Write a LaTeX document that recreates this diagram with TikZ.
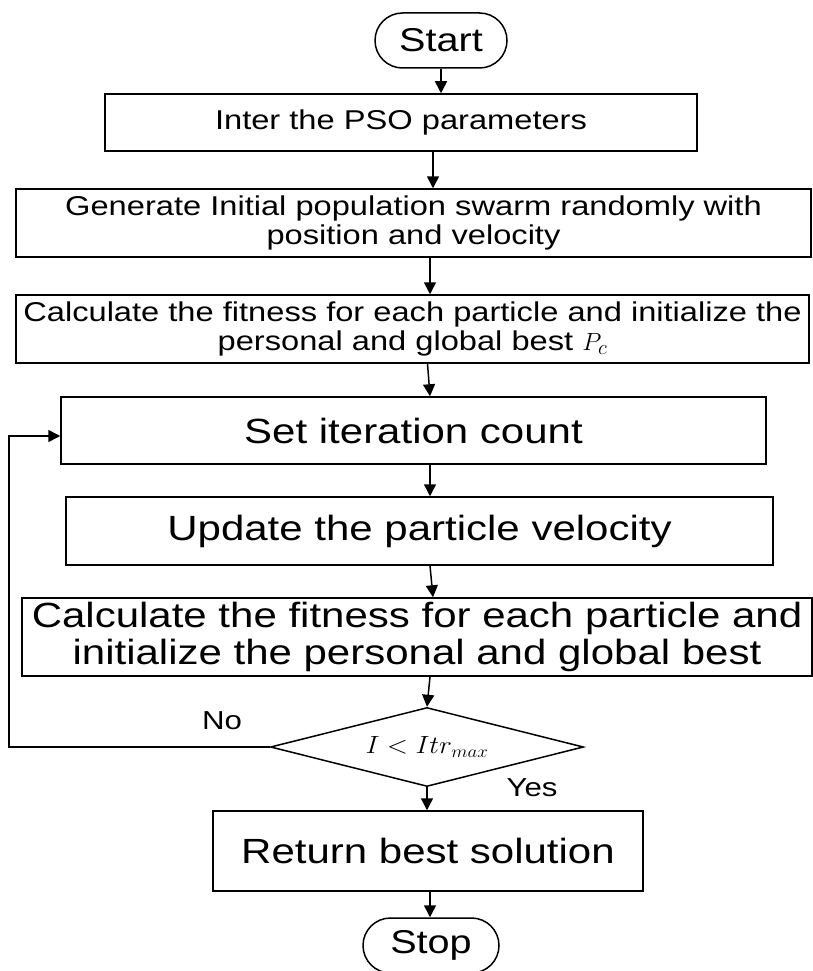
\documentclass[tikz,border=0pt]{standalone}
\usepackage{fontspec}
\setmainfont{Liberation Sans}[FakeStretch=1.2]
\usepackage{graphicx}
\usetikzlibrary{shapes.geometric,shapes.misc,arrows.meta}

\tikzset{
  line/.style={line width=1.5pt},
  box/.style={draw, line, rectangle, inner sep=0pt, align=center},
  smalltext/.style={font=\fontsize{27.2}{29.5}\selectfont},
  bigtext/.style={font=\fontsize{35}{36.5}\selectfont},
  term/.style={draw, line, rounded rectangle, inner sep=0pt,
    minimum height=55pt, font=\fontsize{33}{36}\selectfont},
  decision/.style={draw, line, diamond, inner sep=0pt, aspect=3.96},
  arr/.style={line, -{Triangle[length=12pt,width=12pt]}},
  lbl/.style={inner sep=0pt, font=\fontsize{26}{30}\selectfont}
}

\begin{document}
\begin{tikzpicture}[x=1pt,y=1pt]
  \useasboundingbox (0,0) rectangle (813,-971);

  % terminals and process steps
  \node[term, minimum width=132pt] (start) at (441,-40.5) {Start};
  \node[box, smalltext, minimum width=592pt, minimum height=57pt] (b1) at (401,-122.5)
    {Inter the PSO parameters};
  \node[box, smalltext, minimum width=795pt, minimum height=68pt] (b2) at (413.5,-223)
    {Generate Initial population swarm randomly with\\ position and velocity};
  \node[box, smalltext, minimum width=793pt, minimum height=68pt] (b3) at (412.5,-329)
    {Calculate the fitness for each particle and initialize the\\ personal and global best $P_c$};
  \node[box, bigtext, minimum width=705pt, minimum height=67pt] (b4) at (413.5,-430.5)
    {Set iteration count};
  \node[box, bigtext, minimum width=707pt, minimum height=68pt] (b5) at (419.5,-531)
    {Update the particle velocity};
  \node[box, bigtext, minimum width=790pt, minimum height=78pt] (b6) at (417,-637)
    {Calculate the fitness for each particle and\\ initialize the personal and global best};
  \node[decision, minimum width=313pt, minimum height=79pt] (dec) at (427,-747)
    {\fontsize{23}{27}\selectfont\scalebox{1.1}[1]{$I < Itr_{max}$}};
  \node[box, bigtext, minimum width=430pt, minimum height=80pt] (b7) at (428,-851)
    {Return best solution};
  \node[term, minimum width=136pt] (stop) at (431,-945.5) {Stop};

  % branch labels
  \node[lbl] (no) at (222,-721) {No};
  \node[lbl] (yes) at (532,-788) {Yes};

  % main flow
  \draw[arr] (start.south) -- ([xshift=40pt]b1.north);
  \draw[arr] ([xshift=32pt]b1.south) -- ([xshift=19.5pt]b2.north);
  \draw[arr] ([xshift=16.5pt]b2.south) -- ([xshift=17.5pt]b3.north);
  \draw[arr] ([xshift=15pt]b3.south) -- ([xshift=16.5pt]b4.north);
  \draw[arr] ([xshift=16.5pt]b4.south) -- ([xshift=10.5pt]b5.north);
  \draw[arr] ([xshift=10.5pt]b5.south) -- ([xshift=16pt]b6.north);
  \draw[arr] ([xshift=13pt]b6.south) -- (dec.north);
  \draw[arr] (dec.south) -- ([xshift=-1pt]b7.north);
  \draw[arr] ([xshift=2pt]b7.south) -- ([xshift=-1pt]stop.north);

  % loop back while iterations remain
  \coordinate (turn) at (9,-747);
  \draw[arr] (dec.west) -- (turn) |- ([yshift=-5.5pt]b4.west);
\end{tikzpicture}
\end{document}
